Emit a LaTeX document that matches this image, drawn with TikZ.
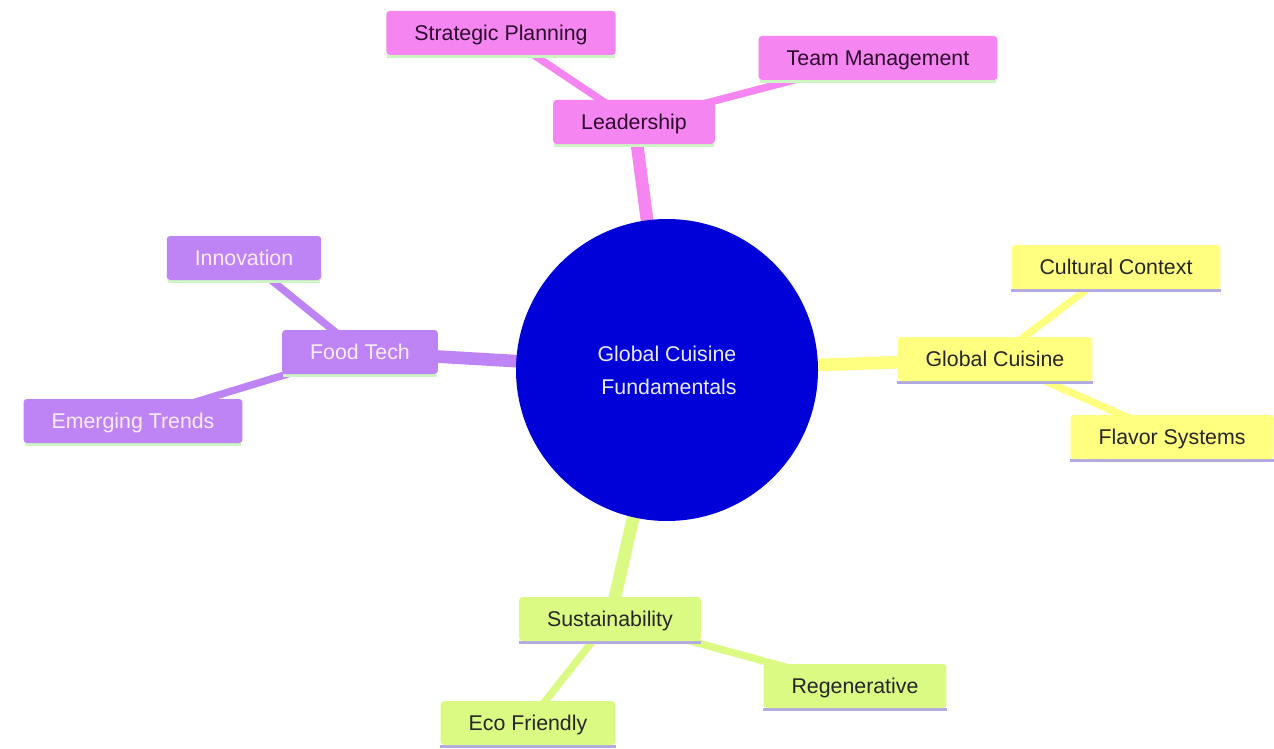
\documentclass[tikz,border=0pt]{standalone}
\usepackage{fontspec}
\setmainfont{Liberation Sans}
\usetikzlibrary{backgrounds}
\pgfdeclarelayer{canvas}
\pgfsetlayers{canvas,background,main}
\definecolor{pinkn}{RGB}{245,133,240}
\definecolor{pinktxt}{RGB}{45,10,45}
\definecolor{purplen}{RGB}{190,132,245}
\definecolor{purpletxt}{RGB}{255,236,255}
\definecolor{yellown}{RGB}{255,255,128}
\definecolor{greenn}{RGB}{218,250,132}
\definecolor{lavline}{RGB}{176,170,225}
\definecolor{paleg}{RGB}{205,245,195}
\definecolor{rootblue}{RGB}{0,0,216}
\definecolor{roottxt}{RGB}{235,235,255}
\tikzset{
  box/.style={rectangle, rounded corners=2.5pt, inner xsep=21pt, inner ysep=0pt,
    minimum height=33pt, text height=11.8pt, text depth=0.5pt,
    font=\fontsize{16}{19}\selectfont},
  pinkbox/.style={box, fill=pinkn, text=pinktxt},
  purplebox/.style={box, fill=purplen, text=purpletxt},
  yellowbox/.style={box, fill=yellown, text=black!85},
  greenbox/.style={box, fill=greenn, text=black!85},
  mainlink/.style={line width=9.5pt, line cap=butt},
  sublink/.style={line width=5.5pt, line cap=butt},
  shline/.style={line width=2.2pt},
}
\begin{document}
\begin{tikzpicture}[x=0.75pt,y=-0.75pt]
\begin{pgfonlayer}{canvas}
\fill[white] (0,0) rectangle (1274,749);
\end{pgfonlayer}
\useasboundingbox (0,0) rectangle (1274,749);
% root
\node[circle, fill=rootblue, minimum size=226.5pt, inner sep=0pt, text=roottxt,
  align=center, font=\fontsize{16}{24.75}\selectfont] (root) at (667,370)
  {Global Cuisine\\ \hspace*{3pt}Fundamentals};
% pink branch
\node[pinkbox] (lead) at (634,122) {Leadership};
\node[pinkbox] (strat) at (501,33) {Strategic Planning};
\node[pinkbox] (team) at (878,58) {Team Management};
% purple branch
\node[purplebox] (food) at (360,352) {Food Tech};
\node[purplebox] (innov) at (244,258) {Innovation};
\node[purplebox] (emerg) at (133,421) {Emerging Trends};
% yellow branch
\node[yellowbox] (glob) at (995,359) {Global Cuisine};
\node[yellowbox] (cult) at (1116,267) {Cultural Context};
\node[yellowbox] (flav) at (1172,437) {Flavor Systems};
% green branch
\node[greenbox] (sust) at (610,619) {Sustainability};
\node[greenbox] (regen) at (855,686) {Regenerative};
\node[greenbox] (eco) at (528,723) {Eco Friendly};
\begin{pgfonlayer}{background}
% connectors
\draw[mainlink, pinkn] (root.center) -- (lead.center);
\draw[sublink, pinkn] (lead.center) -- (strat.center);
\draw[sublink, pinkn] (lead.center) -- (team.center);
\draw[mainlink, purplen] (root.center) -- (food.center);
\draw[sublink, purplen] (food.center) -- (innov.center);
\draw[sublink, purplen] (food.center) -- (emerg.center);
\draw[mainlink, yellown] (root.center) -- (glob.center);
\draw[sublink, yellown] (glob.center) -- (cult.center);
\draw[sublink, yellown] (glob.center) -- (flav.center);
\draw[mainlink, greenn] (root.center) -- (sust.center);
\draw[sublink, greenn] (sust.center) -- (regen.center);
\draw[sublink, greenn] (sust.center) -- (eco.center);
% bottom shadows
\foreach \n in {lead,strat,team,food,innov,emerg}{
  \draw[shline, paleg] ([xshift=1pt,yshift=-0.6pt]\n.south west) -- ([xshift=-1pt,yshift=-0.6pt]\n.south east);
}
\foreach \n in {glob,cult,flav,sust,regen,eco}{
  \draw[shline, lavline] ([yshift=-0.6pt]\n.south west) -- ([yshift=-0.6pt]\n.south east);
}
\end{pgfonlayer}
\end{tikzpicture}
\end{document}
